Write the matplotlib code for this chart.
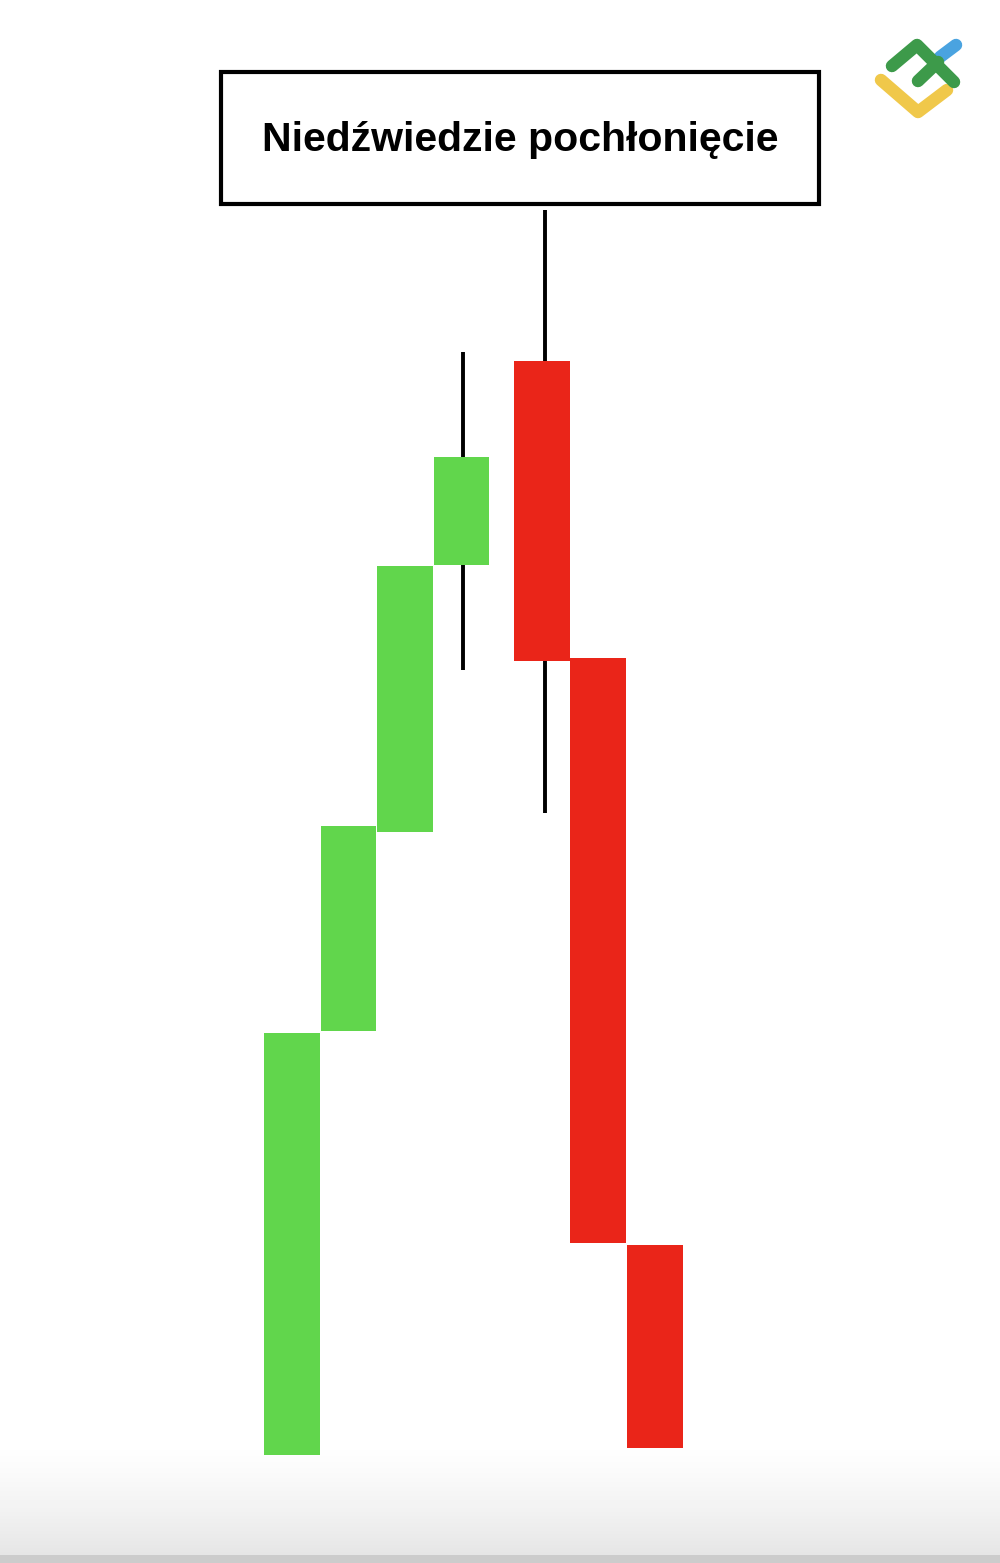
import numpy as np
import matplotlib.pyplot as plt
from matplotlib.patches import Rectangle

# ------------------------------------ Data ----------------------------------
# candle positions (in candle widths) and prices
positions = [0, 1, 2, 3, 4.42, 5.42, 6.42]
opens = [10.8, 53.2, 73.1, 99.8, 120.2, 90.5, 31.8]
closes = [53.0, 73.7, 99.7, 110.6, 90.2, 32.0, 11.5]
highs = [None, None, None, 121.1, 135.3, None, None]
lows = [None, None, None, 89.3, 75.0, None, None]
wick_shift = [0, 0, 0, 0.03, 0.06, 0, 0]

title = "Niedźwiedzie pochłonięcie"

GREEN = "#61d64c"
RED = "#ea2519"

W, H = 1000, 1563
fig = plt.figure(figsize=(W / 100, H / 100), dpi=100)

# ------------------------------------ Background ----------------------------------
bg = fig.add_axes([0, 0, 1, 1])
bg.set_xlim(0, W)
bg.set_ylim(H, 0)
bg.axis("off")
grad = np.ones((H, 1))
start = 1440
ramp = np.linspace(0, 1, H - start)
grad[start:, 0] = 1 - 0.11 * ramp ** 1.3
grad[-8:, 0] = 0.80
bg.imshow(grad, cmap="gray", vmin=0, vmax=1, aspect="auto", extent=[0, W, H, 0], zorder=0)

# ------------------------------------ Candles ----------------------------------
ax = fig.add_axes([0, 0, 1, 1])
ax.patch.set_alpha(0)
unit = 56.5
ax.set_xlim(-292 / unit, (W - 292) / unit)
ax.set_ylim(0, H / 10)
ax.axis("off")

width = 0.99
for x, o, c, hi, lo, dx in zip(positions, opens, closes, highs, lows, wick_shift):
    color = GREEN if c > o else RED
    if hi is not None:
        ax.plot([x + dx, x + dx], [lo, hi], color="black", lw=2.8, zorder=1, solid_capstyle="butt")
    ax.add_patch(Rectangle((x - width / 2, min(o, c)), width, abs(c - o),
                           facecolor=color, edgecolor="none", zorder=2))

# ------------------------------------ Title box ----------------------------------
bg.add_patch(Rectangle((221, 72), 598, 132, facecolor="white", edgecolor="black", lw=3, zorder=3))
bg.text(520, 140, title, ha="center", va="center", fontsize=29.5, fontweight="bold",
        family="Liberation Sans", color="black", zorder=4)

# ------------------------------------ Logo ----------------------------------
kw = dict(lw=9, solid_capstyle="round", solid_joinstyle="round", zorder=5)
bg.plot([940, 956], [57, 45], color="#4aa3e0", **kw)
bg.plot([881, 918, 947], [80, 112, 90], color="#f0c84a", **kw)
bg.plot([892, 917, 954], [66, 45, 82], color="#3d9a4a", **kw)
bg.plot([918, 938], [81, 62], color="#3d9a4a", **kw)

fig.savefig("out.png", dpi=100)
